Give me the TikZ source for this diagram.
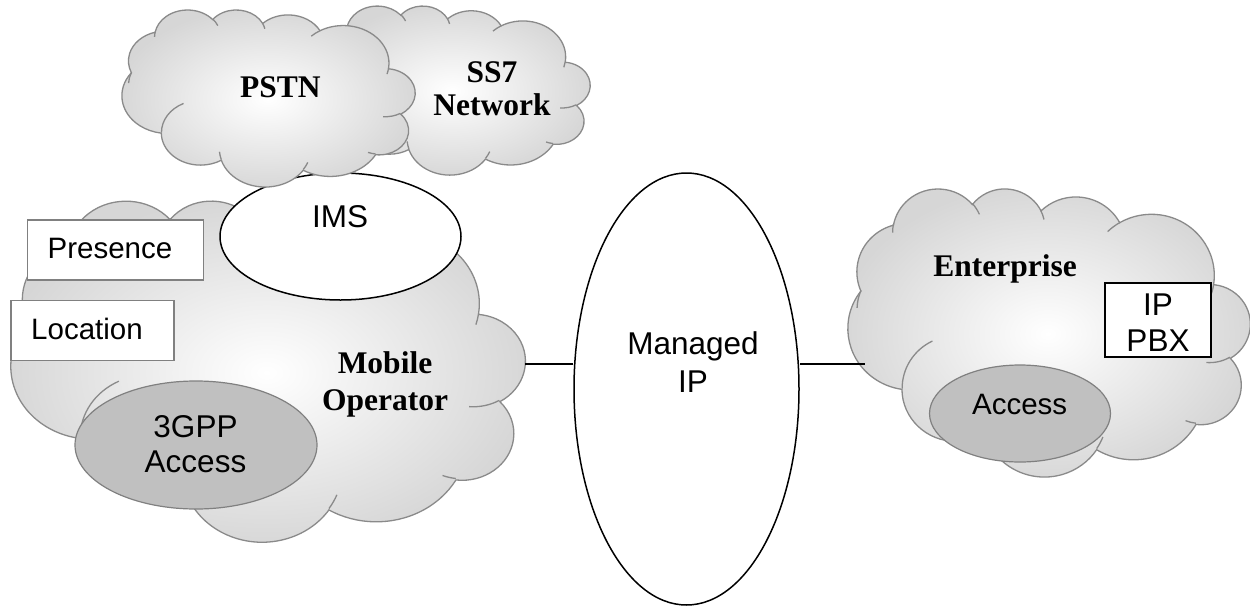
\documentclass[tikz,border=0pt]{standalone}
\usepackage{fontspec}
\setmainfont{Liberation Serif}
\setsansfont{Liberation Sans}
\usetikzlibrary{shapes.geometric}
\definecolor{cloudgray}{RGB}{138,138,138}
\definecolor{boxgray}{RGB}{128,128,128}
\definecolor{accfill}{RGB}{192,192,192}
\newcommand\carc[4]{arc[start angle={pa(#3,#1,#2)}, delta angle={pd(#3,#4,#1,#2)}, x radius=#1, y radius=#2]}
\newcommand\cloudouter{(39,143.70)
 \carc{67.53}{91.90}{-190.4875}{123.7805}
 \carc{53.33}{72.67}{-144.1024}{89.9452}
 \carc{43.65}{59.45}{-145.8079}{99.7230}
 \carc{48.57}{65.95}{-130.9861}{117.2417}
 \carc{53.33}{72.73}{-78.7089}{109.0269}
 \carc{67.75}{92.20}{-46.2673}{130.2690}
 \carc{57.85}{78.67}{0.6250}{114.0333}
 \carc{67.52}{92.15}{22.4516}{115.1726}
 \carc{77.20}{105.43}{66.2426}{75.7110}
 \carc{43.60}{59.18}{-274.9421}{146.7356}
 \carc{43.45}{59.45}{-246.8285}{152.5189}
 -- cycle}
\newcommand\cloudinner{(46.93,261.77) \carc{43.45}{59.45}{86.7420}{26.4295}
 (69.28,348.99) \carc{43.60}{59.18}{73.6105}{11.4475}
 (164.78,390.90) \carc{67.52}{92.15}{137.6242}{14.0811}
 (288.27,347.51) \carc{67.52}{92.15}{6.4533}{15.9984}
 (341.29,229.54) \carc{57.85}{78.67}{-70.2924}{70.9174}
 (417.98,153.54) \carc{53.33}{72.73}{-30.3180}{27.7515}
 (383.24,54.26) \carc{48.57}{65.95}{-13.7443}{14.8589}
 (290.78,39.52) \carc{48.57}{65.95}{-149.1815}{18.1954}
 (221.41,47.20) \carc{43.65}{59.45}{-163.4943}{17.6864}
 (140.00,51.92) \carc{67.53}{91.90}{-66.7070}{12.3194}
 (41.27,157.89) \carc{67.53}{91.90}{157.6544}{11.8582}}
\newcommand\mycloud[4]{%
  \begin{scope}[shift={(#1+#3,#2)}, xscale=-#3/432, yscale=#4/432]
    \path[cloudfill] \cloudouter;
    \draw[cloudline] \cloudinner;
  \end{scope}}
\tikzset{
  cloudfill/.style={draw=cloudgray, line width=1.3pt, inner color=white, outer color=black!16},
  cloudline/.style={draw=cloudgray, line width=1.3pt},
  graybox/.style={rectangle, draw=boxgray, line width=1.2pt, fill=white, inner sep=0},
  blackbox/.style={rectangle, draw=black, line width=1.5pt, fill=white, inner sep=0},
  whiteoval/.style={ellipse, draw=black, line width=1.5pt, fill=white, inner sep=0},
  grayoval/.style={ellipse, draw=boxgray, line width=1.2pt, fill=accfill, inner sep=0},
  conn/.style={draw=black, line width=1.5pt},
  sans/.style={font=\sffamily\fontsize{31.5}{#1}\selectfont, align=center, inner sep=0},
  sans/.default=36,
  smallsans/.style={font=\sffamily\fontsize{29.5}{34}\selectfont, align=center, inner sep=0},
  serifb/.style={font=\bfseries\fontsize{31.5}{#1}\selectfont, align=center, inner sep=0},
  serifb/.default=36,
}
\begin{document}
\begin{tikzpicture}[x=1pt, y=-1pt,
  declare function={
    pa(\p,\w,\h)=atan2(\w*sin(\p),\h*cos(\p));
    pd(\p,\q,\w,\h)=(pa(\p+\q,\w,\h)-pa(\p,\w,\h))+360*(\q>0)*((pa(\p+\q,\w,\h)-pa(\p,\w,\h))<0)-360*(\q<0)*((pa(\p+\q,\w,\h)-pa(\p,\w,\h))>0);
  }]
\useasboundingbox (0,0) rectangle (1250,608);
% clouds
\mycloud{11}{200}{514}{341}
\mycloud{848}{188}{402}{288}
\node[whiteoval, minimum width=241pt, minimum height=127pt] (ims) at (340.5,236.5) {};
\mycloud{316}{5.5}{274}{169}
\mycloud{122}{9.4}{293}{177}
% mobile operator contents
\node[graybox, minimum width=176pt, minimum height=60pt] (presbox) at (115.5,250) {};
\node[smallsans] (pres) at (110,248.5) {Presence};
\node[graybox, minimum width=163pt, minimum height=60pt] (locbox) at (92.4,330.7) {};
\node[smallsans] (loc) at (87,328.8) {Location};
\node[grayoval, minimum width=242pt, minimum height=128pt] (gpp) at (196,445) {};
\node[sans=35.6] (gpptxt) at (195.5,444.2) {3GPP\\Access};
\node[sans] (imstxt) at (340,216.7) {IMS};
\node[serifb=37.3] (mobtxt) at (385,384.1) {Mobile\\Operator};
% top clouds text
\node[serifb] (pstn) at (280.4,87) {PSTN};
\node[serifb=32.7] (ss7) at (492,88.9) {SS7\\Network};
% managed IP
\node[whiteoval, minimum width=225pt, minimum height=432pt] (mip) at (686.5,389) {};
\node[sans=37.7] (miptxt) at (693,362.3) {Managed\\IP};
% enterprise contents
\node[serifb] (ent) at (1005,269) {Enterprise};
\node[blackbox, minimum width=106pt, minimum height=74pt] (pbx) at (1158,320) {};
\node[sans=35.7] (pbxtxt) at (1158,322.8) {IP\\PBX};
\node[grayoval, minimum width=181pt, minimum height=97pt] (acc) at (1020,413.5) {};
\node[smallsans] (acctxt) at (1019.7,404) {Access};
% connectors
\coordinate (mobR) at (525,364);
\coordinate (entL) at (865,364);
\draw[conn] (mobR) -- (mobR -| mip.west);
\draw[conn] (entL -| mip.east) -- (entL);
\end{tikzpicture}
\end{document}
